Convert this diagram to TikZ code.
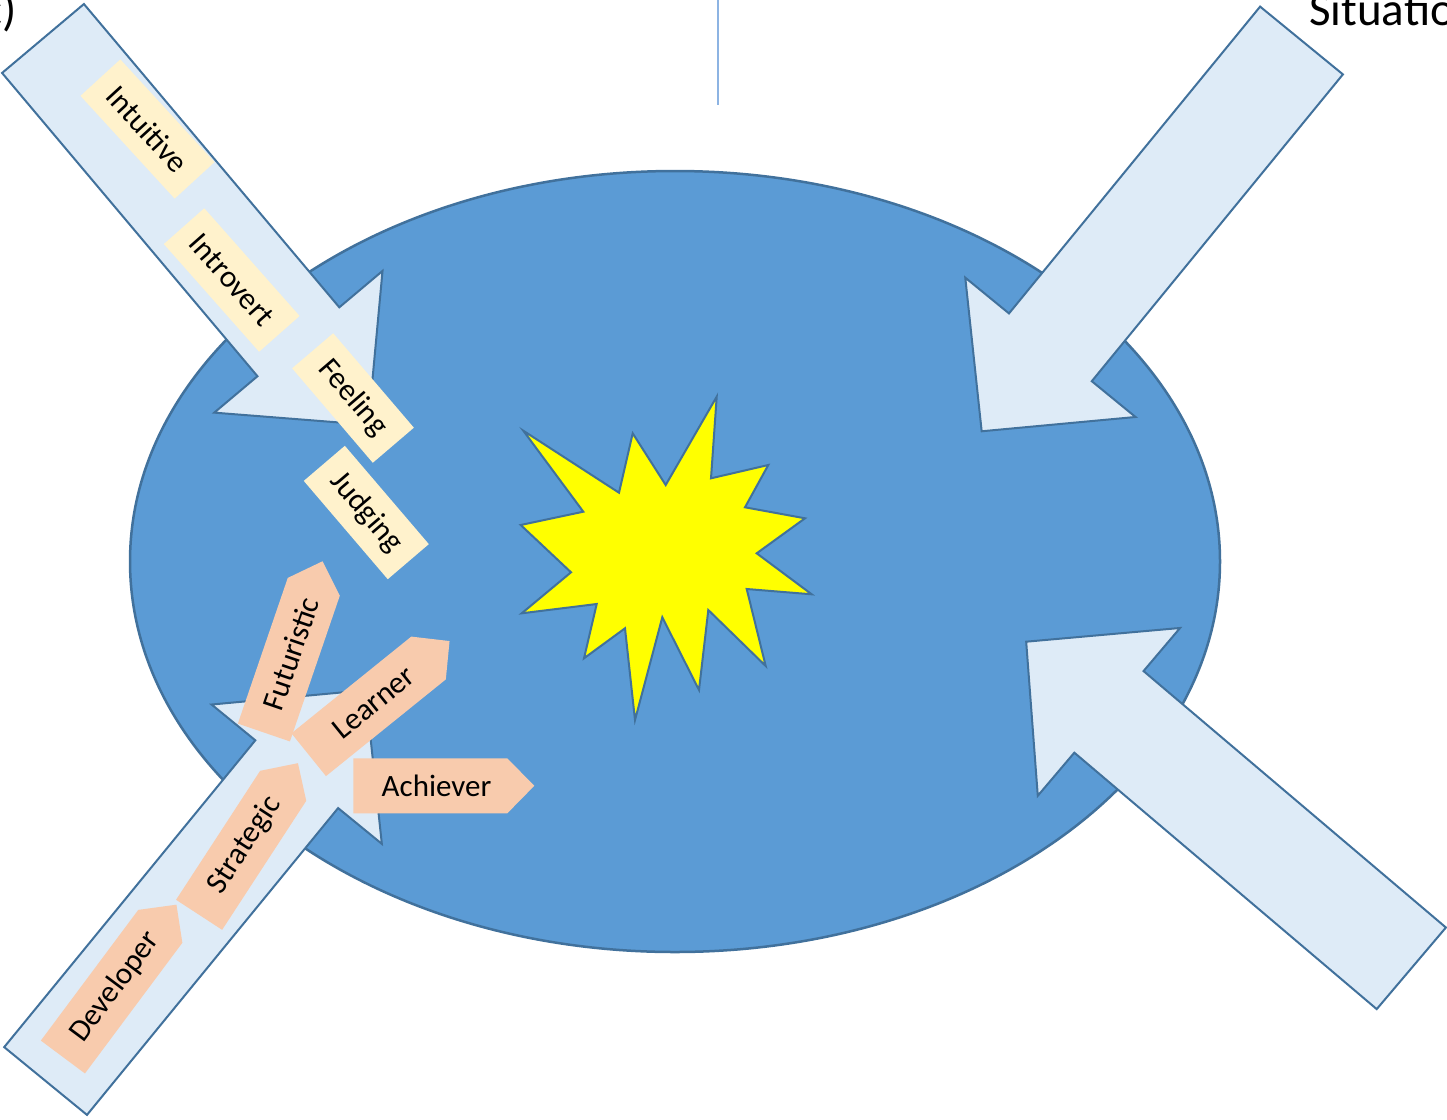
\documentclass[tikz,border=0pt]{standalone}
\usepackage{fontspec}
\setmainfont{Carlito}
\newcommand\lblfont{\fontsize{31}{37}\selectfont}
\newcommand\bigfont{\fontsize{47}{56}\selectfont}
\definecolor{ellfill}{HTML}{5B9BD5}
\definecolor{edgeblue}{HTML}{41719C}
\definecolor{arrfill}{HTML}{DEEBF7}
\definecolor{yelbox}{HTML}{FFF2CC}
\definecolor{pinkbox}{HTML}{F8CBAD}
\definecolor{vline}{HTML}{8DB4E3}
\definecolor{starfill}{HTML}{FFFF00}
\newcommand\blockarr[3]{%
  \begin{scope}[shift={(#1,#2)},rotate=#3]
    \draw[blockarrow] (0,-53.5) -- (396.5,-53.5) -- (396.5,-110) -- (505,0)
      -- (396.5,110) -- (396.5,53.5) -- (0,53.5) -- cycle;
  \end{scope}}
\newcommand\plate[6]{%
  \begin{scope}[shift={(#2,#3)},rotate=#4]
    \fill[pinkbox] (0,-27.5) -- (#5-27,-27.5) -- (#5,0) -- (#5-27,27.5) -- (0,27.5) -- cycle;
    \node[ptext, transform shape] (#1) at (0.46*#5,0) {#6};
  \end{scope}}
\begin{document}
\begin{tikzpicture}[x=1pt,y=-1pt,
  blockarrow/.style={fill=arrfill, draw=edgeblue, line width=2pt, line join=miter},
  ylabel/.style={fill=yelbox, inner sep=0pt, minimum height=54pt, font=\lblfont},
  ptext/.style={font=\lblfont, inner sep=0pt},
  edgetext/.style={font=\bigfont, inner sep=0pt}]
\useasboundingbox (0,0) rectangle (1447,1119);
\clip (0,0) rectangle (1447,1119);
% vertical line at top
\coordinate (vtop) at (718,0);
\coordinate (vbot) at (718,105);
\draw[vline, line width=2pt] (vtop) -- (vbot);
% big ellipse
\draw[fill=ellfill, draw=edgeblue, line width=2.5pt] (675,561.5) ellipse [x radius=545, y radius=390.5];
% four block arrows
\blockarr{43}{38.5}{-49.9}
\blockarr{1301.5}{40.5}{-129.3}
\blockarr{1411.3}{968.3}{139.7}
\blockarr{45.6}{1081}{50.7}
% explosion star
\draw[fill=starfill, draw=edgeblue, line width=2pt, line join=miter]
  (716.7,396.7) -- (711,478.3) -- (768.3,465) -- (745,507.3) -- (805,518.3)
  -- (756.7,553.3) -- (811.7,594.3) -- (746.7,589) -- (765.7,666) -- (708.3,610)
  -- (699,690) -- (662.3,617.3) -- (635,720) -- (625,628.3) -- (584,658.3)
  -- (596.7,604) -- (521.7,613.3) -- (571,572.3) -- (520.7,525) -- (583.3,511.7)
  -- (523.3,430.7) -- (619,492.7) -- (632.7,433.3) -- (665.7,485) -- cycle;
% yellow labels
\node[ylabel, minimum width=139.4pt, rotate=-47.5] (intuitive) at (147.5,129) {Intuitive};
\node[ylabel, minimum width=143.8pt, rotate=-48.5] (introvert) at (231.7,280) {Introvert};
\node[ylabel, minimum width=124.2pt, rotate=-49.5] (feeling) at (353,398) {Feeling};
\node[ylabel, minimum width=129.3pt, rotate=-49.5] (judging) at (366.3,512.5) {Judging};
% pink labels
\plate{developer}{62.9}{1057}{53.3}{190}{Developer}
\plate{strategic}{199.1}{914.8}{56.9}{181}{Strategic}
\plate{futuristic}{263.9}{732.5}{71.1}{181}{Futuristic}
\plate{learner}{308.7}{754.7}{38.9}{181}{Learner}
\plate{achiever}{353.3}{785.8}{0}{181}{Achiever}
% clipped edge texts
\node[edgetext, anchor=base east] (ctext) at (17,25) {c)};
\node[edgetext, anchor=base west] (situ) at (1309,25) {Situatio};
\end{tikzpicture}
\end{document}
